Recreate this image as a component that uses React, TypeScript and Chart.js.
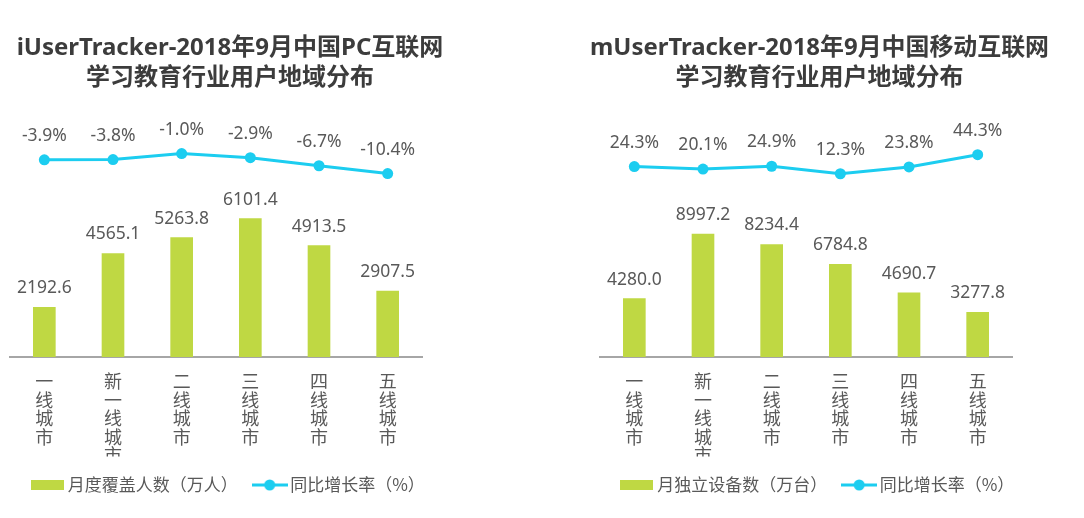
import React, { useEffect, useRef } from 'react';
import { Chart, registerables } from 'chart.js';

Chart.register(...registerables);

// ---- data ----
const categories = ['一线城市', '新一线城市', '二线城市', '三线城市', '四线城市', '五线城市'];

const pcTitle = ['iUserTracker-2018年9月中国PC互联网', '学习教育行业用户地域分布'];
const pcBarLabel = '月度覆盖人数（万人）';
const pcUsers = [2192.6, 4565.1, 5263.8, 6101.4, 4913.5, 2907.5];
const pcGrowth = [-3.9, -3.8, -1.0, -2.9, -6.7, -10.4];

const mobileTitle = ['mUserTracker-2018年9月中国移动互联网', '学习教育行业用户地域分布'];
const mobileBarLabel = '月独立设备数（万台）';
const mobileDevices = [4280.0, 8997.2, 8234.4, 6784.8, 4690.7, 3277.8];
const mobileGrowth = [24.3, 20.1, 24.9, 12.3, 23.8, 44.3];

const growthLabel = '同比增长率（%）';

// ---- style ----
const GREEN = '#bfd843';
const CYAN = '#1ccdf0';
const TEXT = '#595959';
const TITLE = '#3c3c3c';
const CJK = '"Noto Sans CJK SC", "Noto Sans", sans-serif';
const NUM = '"Noto Sans", "Noto Sans CJK SC", sans-serif';

function makeSwatch(): HTMLCanvasElement {
  const c = document.createElement('canvas');
  c.width = 33;
  c.height = 10;
  const g = c.getContext('2d')!;
  g.fillStyle = GREEN;
  g.fillRect(0, 0, 33, 10);
  return c;
}

function makeLineIcon(): HTMLCanvasElement {
  const c = document.createElement('canvas');
  c.width = 36;
  c.height = 12;
  const g = c.getContext('2d')!;
  g.strokeStyle = CYAN;
  g.lineWidth = 3;
  g.beginPath();
  g.moveTo(0, 6);
  g.lineTo(36, 6);
  g.stroke();
  g.fillStyle = CYAN;
  g.beginPath();
  g.arc(18, 6, 5.5, 0, Math.PI * 2);
  g.fill();
  return c;
}

const valueLabels = {
  id: 'valueLabels',
  afterDatasetsDraw(chart: any) {
    const ctx = chart.ctx;
    chart.data.datasets.forEach((ds: any, i: number) => {
      const meta = chart.getDatasetMeta(i);
      const isLine = ds.type === 'line';
      meta.data.forEach((el: any, j: number) => {
        const v = ds.data[j] as number;
        const text = isLine ? v.toFixed(1) + '%' : v.toFixed(1);
        ctx.save();
        ctx.font = '17.5px ' + NUM;
        ctx.fillStyle = TEXT;
        ctx.textAlign = 'center';
        ctx.textBaseline = 'middle';
        ctx.fillText(text, el.x, el.y - (isLine ? 24 : 19));
        ctx.restore();
      });
    });
  },
};

type PanelProps = {
  left: number;
  width: number;
  title: string[];
  barLabel: string;
  bars: number[];
  growth: number[];
  barMax: number;
  lineMin: number;
  lineMax: number;
  leftW: number;
  rightW: number;
};

function Panel(p: PanelProps) {
  const ref = useRef<HTMLCanvasElement>(null);
  useEffect(() => {
    if (!ref.current) return;
    const swatch = makeSwatch();
    const lineIcon = makeLineIcon();
    const chart = new Chart(ref.current, {
      type: 'bar',
      data: {
        labels: categories,
        datasets: [
          {
            type: 'bar',
            label: p.barLabel,
            data: p.bars,
            backgroundColor: GREEN,
            barThickness: 22,
            yAxisID: 'y',
            order: 1,
          } as any,
          {
            type: 'line',
            label: growthLabel,
            data: p.growth,
            borderColor: CYAN,
            backgroundColor: CYAN,
            borderWidth: 3,
            pointRadius: 5.5,
            pointBackgroundColor: CYAN,
            pointBorderWidth: 0,
            tension: 0,
            yAxisID: 'y1',
            order: 0,
          } as any,
        ],
      },
      options: {
        responsive: false,
        animation: false,
        events: [],
        layout: { padding: { top: 0, bottom: 14.5, left: 0, right: 0 } },
        plugins: {
          tooltip: { enabled: false },
          title: {
            display: true,
            text: p.title,
            color: TITLE,
            font: { family: NUM.replace('"Noto Sans", "Noto Sans CJK SC"', '"Noto Sans", "Noto Sans CJK SC"'), size: 24, weight: 'bold', lineHeight: 1.25 },
            padding: { top: 33, bottom: 17 },
          },
          legend: {
            display: true,
            position: 'bottom',
            labels: {
              usePointStyle: true,
              pointStyleWidth: 24,
              boxHeight: 10,
              padding: 20,
              color: TEXT,
              font: { family: CJK, size: 17 },
              generateLabels: () => [
                {
                  text: p.barLabel,
                  pointStyle: swatch,
                  fillStyle: GREEN,
                  strokeStyle: 'transparent',
                  lineWidth: 0,
                  hidden: false,
                  datasetIndex: 0,
                  fontColor: TEXT,
                } as any,
                {
                  text: growthLabel,
                  pointStyle: lineIcon,
                  fillStyle: CYAN,
                  strokeStyle: 'transparent',
                  lineWidth: 0,
                  hidden: false,
                  datasetIndex: 1,
                  fontColor: TEXT,
                } as any,
              ],
            },
          },
        },
        scales: {
          x: {
            grid: { display: false, drawTicks: false },
            border: { display: true, color: '#a6a6a6', width: 2 },
            ticks: {
              color: TEXT,
              font: { family: CJK, size: 18, lineHeight: 1.03 },
              padding: 15,
              maxRotation: 0,
              autoSkip: false,
              callback: function (this: any, value: any) {
                return String(this.getLabelForValue(value)).split('');
              },
            },
            afterFit: (s: any) => {
              s.height = 99.5;
            },
          },
          y: {
            position: 'left',
            min: 0,
            max: p.barMax,
            ticks: { display: false },
            grid: { display: false, drawTicks: false },
            border: { display: false },
            afterFit: (s: any) => {
              s.width = p.leftW;
            },
          },
          y1: {
            position: 'right',
            min: p.lineMin,
            max: p.lineMax,
            ticks: { display: false },
            grid: { display: false, drawTicks: false },
            border: { display: false },
            afterFit: (s: any) => {
              s.width = p.rightW;
            },
          },
        },
      } as any,
      plugins: [valueLabels],
    });
    return () => chart.destroy();
  }, []);
  return (
    <canvas
      ref={ref}
      width={p.width}
      height={518}
      style={{ position: 'absolute', left: p.left, top: 0, width: p.width, height: 518, display: 'block' }}
    />
  );
}

export default function App() {
  return (
    <div style={{ position: 'fixed', left: 0, top: 0, width: 1084, height: 518, background: '#ffffff', overflow: 'hidden' }}>
      <Panel
        left={0}
        width={460}
        title={pcTitle}
        barLabel={pcBarLabel}
        bars={pcUsers}
        growth={pcGrowth}
        barMax={10890}
        lineMin={-96.6}
        lineMax={19.5}
        leftW={10}
        rightW={38}
      />
      <Panel
        left={590}
        width={459}
        title={mobileTitle}
        barLabel={mobileBarLabel}
        bars={mobileDevices}
        growth={mobileGrowth}
        barMax={18080}
        lineMin={-296.2}
        lineMax={119.6}
        leftW={10}
        rightW={37}
      />
    </div>
  );
}
